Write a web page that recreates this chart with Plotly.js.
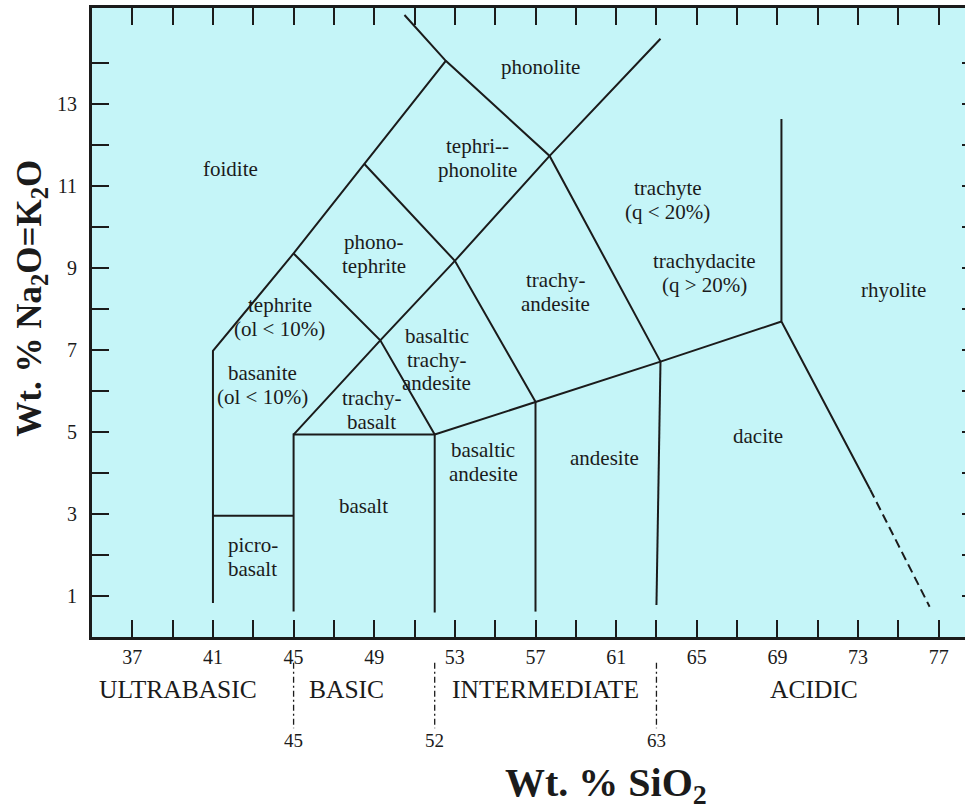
<!DOCTYPE html>
<html>
<head>
<meta charset="utf-8">
<script src="https://cdn.plot.ly/plotly-3.0.1.min.js"></script>
<style>
  html, body { margin: 0; padding: 0; overflow: hidden; background: #ffffff; }
  #tas { width: 990px; height: 809px; }
</style>
</head>
<body>
<div id="tas"></div>
<script>
// Total alkali–silica (TAS) classification: field boundaries in wt.% SiO2 (x) and Na2O+K2O (y)
const picroTopX = [41, 45];
const picroTopY = [2.96, 2.96];

const foiditeEdgeX = [41, 41, 45, 48.5, 52.55];
const foiditeEdgeY = [0.83, 6.98, 9.36, 11.55, 14.06];

const basaltBoxX = [45, 45, 52, 52];
const basaltBoxY = [0.62, 4.94, 4.94, 0.6];

const alkaliDiagonalX = [45, 49.3, 53, 57.7, 63.2];
const alkaliDiagonalY = [4.94, 7.24, 9.18, 11.74, 14.6];

const tephriteEdgeX = [45, 49.3, 52];
const tephriteEdgeY = [9.36, 7.24, 4.94];

const phonotephriteEdgeX = [48.5, 53, 57];
const phonotephriteEdgeY = [11.55, 9.18, 5.74];

const phonoliteEdgeX = [50.5, 52.55, 57.7, 63.2];
const phonoliteEdgeY = [15.18, 14.06, 11.74, 6.72];

const subalkalineTopX = [52, 57, 63.2, 69.2];
const subalkalineTopY = [4.94, 5.74, 6.72, 7.7];

const andesiteEdgeX = [57, 57];
const andesiteEdgeY = [0.62, 5.74];

const daciteEdgeX = [63, 63.2];
const daciteEdgeY = [0.78, 6.72];

const rhyoliteEdgeX = [69.2, 69.2, 73.6];
const rhyoliteEdgeY = [12.64, 7.7, 3.6];

const rhyoliteTailX = [73.6, 76.55];
const rhyoliteTailY = [3.6, 0.74];

// Field names and their label centres
const fieldNames = [
  'foidite', 'phonolite', 'tephri--<br>phonolite', 'phono-<br>tephrite',
  'tephrite<br>(ol &lt; 10%)', 'basanite<br>(ol &lt; 10%)', 'trachy-<br>basalt',
  'basaltic<br>trachy-<br>andesite', 'trachy-<br>andesite', 'trachyte<br>(q &lt; 20%)',
  'trachydacite<br>(q &gt; 20%)', 'rhyolite', 'dacite', 'andesite',
  'basaltic<br>andesite', 'basalt', 'picro-<br>basalt'
];
const fieldX = [41.87, 57.25, 54.12, 48.97, 44.31, 43.47, 48.87, 52.09, 57.99, 63.56, 65.39, 74.75, 68.06, 60.43, 54.42, 48.47, 42.97];
const fieldY = [11.42, 13.91, 11.69, 9.35, 7.81, 6.15, 5.54, 6.76, 8.42, 10.67, 8.88, 8.47, 4.91, 4.37, 4.27, 3.2, 1.95];

// Silica groups below the axis
const groupNames = ['ULTRABASIC', 'BASIC', 'INTERMEDIATE', 'ACIDIC'];
const groupCentres = [39.25, 47.6, 57.5, 70.8];
const groupLimits = [45, 52, 63];

// Axis ticks: labelled majors and unlabelled minors
const xMajorTicks = [37, 41, 45, 49, 53, 57, 61, 65, 69, 73, 77];
const xMinorTicks = [39, 43, 47, 51, 55, 59, 63, 67, 71, 75];
const yMajorTicks = [1, 3, 5, 7, 9, 11, 13];
const yMinorTicks = [2, 4, 6, 8, 10, 12, 14];

const SERIF = 'Liberation Serif, Times New Roman, serif';
const INK = '#1b1b1b';
const FIELD_BG = '#c5f5f8';

function edge(x, y, dash) {
  return {
    x: x, y: y, type: 'scatter', mode: 'lines', hoverinfo: 'skip', showlegend: false,
    line: { color: INK, width: 2, dash: dash || 'solid' }
  };
}

const traces = [
  edge(picroTopX, picroTopY),
  edge(foiditeEdgeX, foiditeEdgeY),
  edge(basaltBoxX, basaltBoxY),
  edge(alkaliDiagonalX, alkaliDiagonalY),
  edge(tephriteEdgeX, tephriteEdgeY),
  edge(phonotephriteEdgeX, phonotephriteEdgeY),
  edge(phonoliteEdgeX, phonoliteEdgeY),
  edge(subalkalineTopX, subalkalineTopY),
  edge(andesiteEdgeX, andesiteEdgeY),
  edge(daciteEdgeX, daciteEdgeY),
  edge(rhyoliteEdgeX, rhyoliteEdgeY),
  edge(rhyoliteTailX, rhyoliteTailY, '9px,5px')
];

// Field labels: one annotation per text line for tight line spacing
const LINE_GAP = 23.5;
const annotations = [];
fieldNames.forEach(function (name, i) {
  const lines = name.split('<br>');
  lines.forEach(function (line, k) {
    annotations.push({
      x: fieldX[i], y: fieldY[i], xref: 'x', yref: 'y',
      xanchor: 'center', yanchor: 'middle',
      text: line, showarrow: false,
      yshift: ((lines.length - 1) / 2 - k) * LINE_GAP,
      font: { family: SERIF, size: 21, color: INK }
    });
  });
});

groupNames.forEach(function (name, i) {
  annotations.push({
    x: groupCentres[i], y: -0.084, xref: 'x', yref: 'paper',
    xanchor: 'center', yanchor: 'middle',
    text: name, showarrow: false,
    font: { family: SERIF, size: 25.5, color: INK }
  });
});

groupLimits.forEach(function (v) {
  annotations.push({
    x: v, y: -0.165, xref: 'x', yref: 'paper',
    xanchor: 'center', yanchor: 'middle',
    text: String(v), showarrow: false,
    font: { family: SERIF, size: 19, color: INK }
  });
});

annotations.push({
  x: 0.579, y: -0.236, xref: 'paper', yref: 'paper',
  xanchor: 'center', yanchor: 'middle',
  text: '<b>Wt. % SiO<sub>2</sub></b>', showarrow: false,
  font: { family: SERIF, size: 40, color: INK }
});
annotations.push({
  x: -0.068, y: 0.539, xref: 'paper', yref: 'paper',
  xanchor: 'center', yanchor: 'middle',
  text: '<b>Wt. % Na<sub>2</sub>O=K<sub>2</sub>O</b>', showarrow: false, textangle: -90,
  font: { family: SERIF, size: 35, color: INK }
});

const shapes = groupLimits.map(function (v) {
  return {
    type: 'line', xref: 'x', yref: 'paper', x0: v, x1: v, y0: -0.041, y1: -0.145,
    line: { color: INK, width: 1.3, dash: '6px,3px,2px,3px' }
  };
});

const tickStyle = { ticks: 'inside', ticklen: 17, tickwidth: 2, tickcolor: INK };

const layout = {
  width: 990, height: 809,
  margin: { l: 92, r: 11, t: 8, b: 172 },
  paper_bgcolor: '#ffffff',
  plot_bgcolor: FIELD_BG,
  showlegend: false,
  xaxis: Object.assign({
    range: [35, 79], showgrid: false, zeroline: false,
    showline: true, linewidth: 3, linecolor: INK, mirror: 'ticks',
    tickmode: 'array', tickvals: xMajorTicks,
    minor: Object.assign({ tickmode: 'array', tickvals: xMinorTicks, showgrid: false }, tickStyle),
    ticklabelstandoff: 0,
    tickfont: { family: SERIF, size: 20, color: INK }
  }, tickStyle),
  yaxis: Object.assign({
    range: [0, 15.35], showgrid: false, zeroline: false,
    showline: true, linewidth: 3, linecolor: INK, mirror: 'ticks',
    tickmode: 'array', tickvals: yMajorTicks,
    minor: Object.assign({ tickmode: 'array', tickvals: yMinorTicks, showgrid: false }, tickStyle),
    ticklabelstandoff: 8,
    tickfont: { family: SERIF, size: 20, color: INK }
  }, tickStyle),
  annotations: annotations,
  shapes: shapes
};

Plotly.newPlot('tas', traces, layout, { staticPlot: true, displayModeBar: false });
</script>
</body>
</html>
